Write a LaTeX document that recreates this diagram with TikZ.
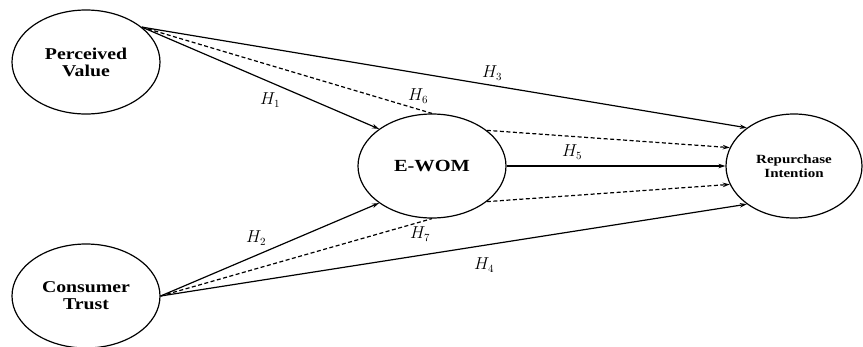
\documentclass[tikz,border=0pt]{standalone}
\usepackage{fontspec}
\setmainfont[FakeStretch=1.2]{Liberation Serif}
\usetikzlibrary{arrows.meta,shapes.geometric}
\begin{document}
\begin{tikzpicture}[x=1pt,y=-1pt,
  var/.style={draw,ellipse,line width=1.2pt,minimum width=148pt,minimum height=104pt,inner sep=0pt,align=center},
  arr/.style={line width=1.2pt,-{Stealth[length=7pt,width=4.5pt]}},
  dsh/.style={line width=1.2pt,dash pattern=on 4pt off 2.5pt},
  lbl/.style={font=\fontsize{16}{16}\selectfont}]
\useasboundingbox (0,0) rectangle (863,346);
\node[var,font=\bfseries\fontsize{16.5}{17}\selectfont] (pv) at (86,62) {Perceived\\Value};
\node[var,font=\bfseries\fontsize{16.5}{17}\selectfont] (ct) at (86,296) {Consumer\\Trust};
\node[var,font=\bfseries\fontsize{17}{18}\selectfont] (ew) at (432,166) {E-WOM};
\node[var,minimum width=136pt,font=\bfseries\fontsize{12.5}{14}\selectfont] (ri) at (794,166) {Repurchase\\Intention};
% PV paths
\draw[arr] (pv.32) -- (ri.141);
\draw[dsh] (pv.32) -- (ew.north);
\draw[arr] (pv.32) -- (ew.145);
% CT paths
\draw[arr] (ct.east) -- (ew.215);
\draw[dsh] (ct.east) -- (ew.south);
\draw[arr] (ct.east) -- (ri.219);
% EWOM to RI
\draw[arr] (ew.east) -- (ri.west);
\draw[arr,dsh] (ew.33) -- (ri.164);
\draw[arr,dsh] (ew.-33) -- (ri.196);
% labels
\node[lbl] (h1) at (270,100) {$H_1$};
\node[lbl] (h6) at (418,96) {$H_6$};
\node[lbl] (h3) at (492,73) {$H_3$};
\node[lbl] (h5) at (572,152) {$H_5$};
\node[lbl] (h2) at (256,238) {$H_2$};
\node[lbl] (h7) at (420,234) {$H_7$};
\node[lbl] (h4) at (484,265) {$H_4$};
\end{tikzpicture}
\end{document}
